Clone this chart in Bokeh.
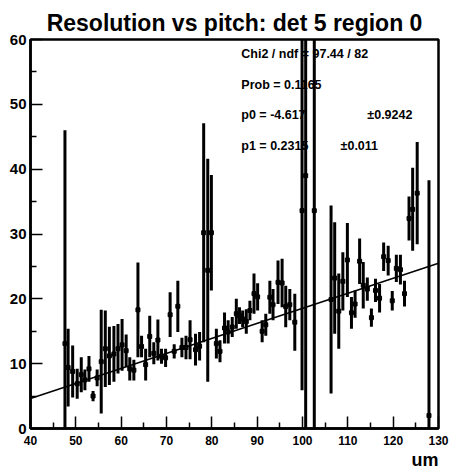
from bokeh.plotting import figure
from bokeh.models import Range1d, FixedTicker, ColumnDataSource, Title
from bokeh.core.properties import value
from bokeh.embed import file_html
from bokeh.resources import INLINE

# ---- data ----
pitch = [47.6, 48.3, 49.3, 50.3, 51.2, 52.0, 52.9, 53.8, 54.7, 55.6, 56.5, 57.4, 58.4, 59.3, 60.2, 61.1, 61.9, 62.8,
         63.7, 64.5, 65.4, 66.3, 67.2, 68.1, 68.9, 69.8, 70.8, 71.7, 72.5, 73.4, 74.3, 75.2, 76.4, 77.3, 78.2, 79.1,
         79.9, 81.0, 81.8, 82.8, 83.6, 84.5, 85.4,
         86.1, 86.8, 87.6, 88.4, 89.3, 90.1, 91.1, 91.9, 92.8, 93.5, 94.6, 95.5, 96.3, 97.2, 98.3, 99.9, 100.7, 102.6,
         106.3, 107.1, 108.0, 108.9, 109.9, 110.8, 111.6, 112.6, 113.4, 114.3, 115.2, 116.1, 117.0, 117.9, 118.9,
         119.8, 120.7, 121.6, 122.5, 123.5, 124.3, 125.3, 127.9]
resolution = [13.1, 9.4, 8.8, 6.9, 8.3, 7.5, 9.2, 5.0, 7.8, 10.3, 12.3, 11.2, 11.5, 12.3, 12.9, 12.0, 9.2, 9.0,
              18.3, 12.65, 9.85, 14.2, 11.6, 13.65, 11.15, 10.9, 17.55, 11.9, 18.85, 12.5, 12.5, 13.7, 12.15, 12.7,
              30.2, 24.4, 30.2, 13.1, 11.9, 15.5, 14.9, 15.65, 17.7,
              17.4, 16.9, 16.5, 18.2, 20.8, 20.3, 15.0, 16.0, 20.25, 19.1, 22.55, 22.45, 18.8, 19.1, 16.4, 33.6,
              39.0, 33.6,
              19.9, 23.2, 18.1, 22.7, 26.0, 17.85, 19.2, 25.8, 22.1, 21.5, 17.1, 21.3, 20.1, 26.5, 25.9, 19.7,
              24.7, 24.5, 20.8, 32.4, 33.8, 36.3, 2.0]
res_err = [32.9, 6.0, 4.0, 2.3, 2.7, 1.6, 2.0, 0.8, 1.3, 8.0, 5.9, 4.5, 4.3, 3.8, 4.0, 2.5, 1.8, 1.6,
           7.3, 1.65, 2.45, 3.2, 1.7, 3.15, 1.15, 1.4, 3.45, 1.1, 3.95, 1.5, 1.8, 3.0, 2.45, 2.2,
           16.9, 17.2, 8.9, 2.3, 1.7, 2.4, 1.8, 1.55, 2.3,
           1.3, 1.3, 1.9, 1.5, 3.1, 2.1, 1.7, 1.7, 2.55, 2.4, 3.35, 3.75, 3.2, 2.4, 4.4, 27.7, 45.0, 40.0,
           14.5, 8.6, 5.8, 4.5, 5.7, 2.45, 2.1, 3.5, 3.6, 1.8, 1.4, 1.8, 2.2, 2.2, 2.3, 1.5,
           2.1, 2.3, 2.0, 3.4, 6.4, 7.9, 36.3]
fit_x = [40, 130]
fit_y = [4.64, 25.48]

x_ticks = [40, 50, 60, 70, 80, 90, 100, 110, 120, 130]
x_minor = [45, 55, 65, 75, 85, 95, 105, 115, 125]
y_ticks = [0, 10, 20, 30, 40, 50, 60]
y_minor = [5, 15, 25, 35, 45, 55]

title_text = "Resolution vs pitch: det 5 region 0"
x_label = "um"
stats_lines = ["Chi2 / ndf = 97.44 / 82", "Prob = 0.1165", "p0 = -4.617", "p1 = 0.2315"]
stats_errs = ["\u00b10.9242", "\u00b10.011"]

FONT = "Liberation Sans"

p = figure(width=449, height=469, output_backend="svg", toolbar_location=None,
           x_range=Range1d(40, 130), y_range=Range1d(0, 60),
           min_border_left=30, min_border_right=11, min_border_top=39, min_border_bottom=41)
p.title = Title(text=title_text, align="center", offset=8, standoff=7, text_font=FONT,
                text_font_style="bold", text_font_size="23px", text_color="black")
p.grid.visible = False
p.background_fill_color = "white"
p.border_fill_color = "white"
p.outline_line_color = "black"
p.outline_line_width = 2.5

# stats text (drawn first so the error bars lie over it)
stats_src = ColumnDataSource(dict(x=[86.5, 86.5, 86.5, 86.5, 114.3, 108.4],
                                  y=[57.7, 53.0, 48.3, 43.5, 48.3, 43.5],
                                  t=stats_lines + stats_errs))
p.text(x="x", y="y", text="t", source=stats_src, text_font=value(FONT), text_font_style="bold",
       text_font_size="12.5px", text_baseline="middle", text_align="left", text_color="black")

lo = [r - e for r, e in zip(resolution, res_err)]
hi = [r + e for r, e in zip(resolution, res_err)]
p.segment(x0=pitch, y0=lo, x1=pitch, y1=hi, line_width=3, line_color="black")
p.scatter(pitch, resolution, marker="square", size=4, color="black")
p.line(fit_x, fit_y, line_width=1.5, line_color="black")

for ax, ticks, minor, fs, so in ((p.xaxis, x_ticks, x_minor, "12px", 7), (p.yaxis, y_ticks, y_minor, "15px", 4)):
    ax.ticker = FixedTicker(ticks=ticks, minor_ticks=minor)
    ax.major_tick_in = 12
    ax.major_tick_out = 0
    ax.minor_tick_in = 6
    ax.minor_tick_out = 0
    ax.axis_line_width = 2.5
    ax.major_tick_line_width = 1.5
    ax.minor_tick_line_width = 1.5
    ax.major_label_text_font = FONT
    ax.major_label_text_font_style = "bold"
    ax.major_label_text_font_size = fs
    ax.major_label_text_color = "black"
    ax.major_label_standoff = so

p.add_layout(Title(text=x_label, align="right", standoff=0, text_font=FONT, text_font_style="bold",
                   text_font_size="18px", text_color="black"), "below")

open("out.html", "w").write(file_html(p, INLINE))
